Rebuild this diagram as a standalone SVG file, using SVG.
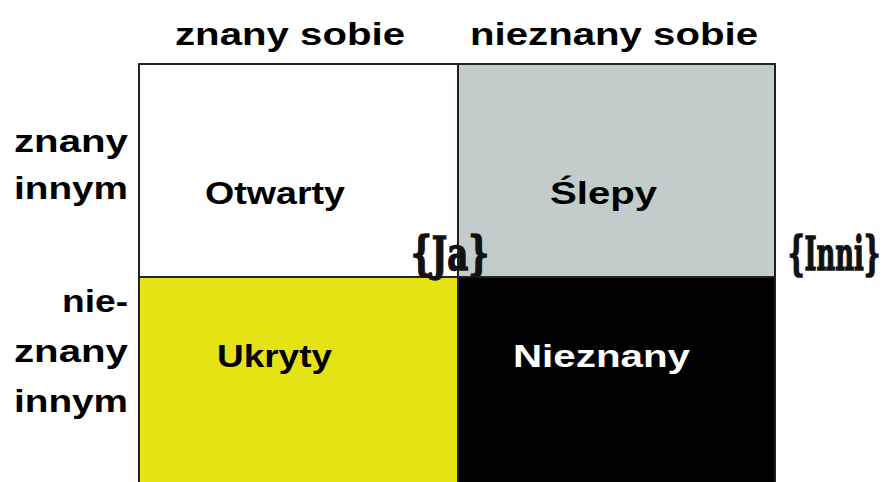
<svg xmlns="http://www.w3.org/2000/svg" width="893" height="482" viewBox="0 0 893 482">
<style>
.lbl{font-family:"Liberation Sans",Arial,sans-serif;font-weight:bold;font-size:31px;fill:#000}
.cell{stroke:#222;stroke-width:2}
.br{font-family:"DejaVu Serif","Liberation Serif",serif;font-weight:bold;font-size:46px;fill:#111;stroke:#111;stroke-width:1.5}
</style>
<rect width="893" height="482" fill="#fff"/>
<g id="headers">
<text class="lbl" x="175" y="45" textLength="230" lengthAdjust="spacingAndGlyphs">znany sobie</text>
<text class="lbl" x="470" y="45" textLength="288" lengthAdjust="spacingAndGlyphs">nieznany sobie</text>
<text class="lbl" x="14" y="152" textLength="114" lengthAdjust="spacingAndGlyphs">znany</text>
<text class="lbl" x="14" y="199" textLength="114" lengthAdjust="spacingAndGlyphs">innym</text>
<text class="lbl" x="62" y="312" textLength="66" lengthAdjust="spacingAndGlyphs">nie-</text>
<text class="lbl" x="14" y="362" textLength="114" lengthAdjust="spacingAndGlyphs">znany</text>
<text class="lbl" x="14" y="412" textLength="114" lengthAdjust="spacingAndGlyphs">innym</text>
</g>
<g id="otwarty">
<rect class="cell" x="139" y="64" width="319" height="213" fill="#fff"/>
<text class="lbl" x="205" y="204" textLength="140" lengthAdjust="spacingAndGlyphs">Otwarty</text>
</g>
<g id="slepy">
<rect class="cell" x="458" y="64" width="317" height="213" fill="#c2ccca"/>
<text class="lbl" x="550" y="204" textLength="107" lengthAdjust="spacingAndGlyphs">Ślepy</text>
</g>
<g id="ukryty">
<rect class="cell" x="139" y="277" width="319" height="220" fill="#e6e314"/>
<text class="lbl" x="217" y="367" textLength="115" lengthAdjust="spacingAndGlyphs">Ukryty</text>
</g>
<g id="nieznany">
<rect class="cell" x="458" y="277" width="317" height="220" fill="#000"/>
<text class="lbl" x="513" y="367" textLength="177" lengthAdjust="spacingAndGlyphs" style="fill:#fff">Nieznany</text>
</g>
<g id="ja">
<text class="br" x="411" y="270" textLength="78" lengthAdjust="spacingAndGlyphs">{Ja}</text>
</g>
<g id="inni" transform="translate(788,270) scale(0.56,1)">
<text class="br" x="0" y="0">{Inni}</text>
</g>
<g id="connectors"></g>
</svg>
